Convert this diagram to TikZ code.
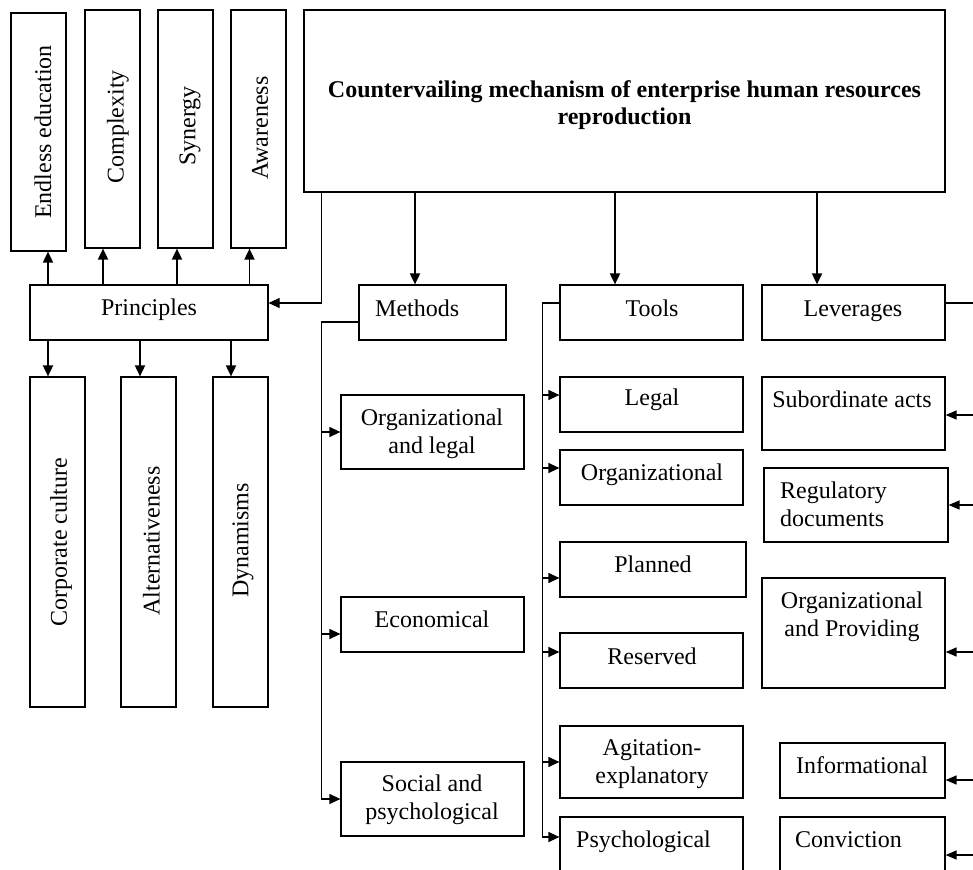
\documentclass[tikz,border=0pt]{standalone}
\usepackage{fontspec}
\setmainfont{Liberation Serif}
\usetikzlibrary{arrows.meta,fit}
\tikzset{
  bx/.style={draw, line width=1.2pt, inner sep=0pt},
  tx/.style={inner sep=0pt, font=\fontsize{24}{28}\selectfont, align=center},
  vt/.style={tx, rotate=90},
  bigarr/.style={line width=1.8pt, -{Triangle[length=11pt,width=10pt]}},
  stub/.style={line width=1.2pt, -{Triangle[length=11pt,width=10pt]}},
  rarr/.style={line width=1.4pt, -{Triangle[length=11pt,width=9pt]}},
  ln/.style={line width=1.2pt},
}
\begin{document}
\begin{tikzpicture}[x=1pt,y=-1pt]
\fill[white] (0,0) rectangle (973,869);
\useasboundingbox (0,0) rectangle (973,869);

% ---------- boxes ----------
\node[bx, fit={(11,13) (66,251)}] (e1) {};
\node[bx, fit={(85,10) (140,248)}] (e2) {};
\node[bx, fit={(158,10) (213,248)}] (e3) {};
\node[bx, fit={(231,10) (286,248)}] (e4) {};
\node[bx, fit={(304,10) (945,192)}] (main) {};
\node[bx, fit={(30,285) (268,340)}] (prin) {};
\node[bx, fit={(30,377) (85,707)}] (c1) {};
\node[bx, fit={(121,377) (176,707)}] (c2) {};
\node[bx, fit={(213,377) (268,707)}] (c3) {};
\node[bx, fit={(359,285) (506,340)}] (meth) {};
\node[bx, fit={(560,285) (743,340)}] (tools) {};
\node[bx, fit={(762,285) (945,340)}] (lev) {};
\node[bx, fit={(341,395) (524,469)}] (m1) {};
\node[bx, fit={(341,597) (524,652)}] (m2) {};
\node[bx, fit={(341,762) (524,836)}] (m3) {};
\node[bx, fit={(560,377) (743,432)}] (t1) {};
\node[bx, fit={(560,450) (743,505)}] (t2) {};
\node[bx, fit={(560,542) (746,597)}] (t3) {};
\node[bx, fit={(560,633) (743,688)}] (t4) {};
\node[bx, fit={(560,726) (743,798)}] (t5) {};
\node[bx, fit={(560,817) (743,878)}] (t6) {};
\node[bx, fit={(762,377) (945,450)}] (l1) {};
\node[bx, fit={(764,468) (948,542)}] (l2) {};
\node[bx, fit={(762,578) (945,688)}] (l3) {};
\node[bx, fit={(780,743) (945,798)}] (l4) {};
\node[bx, fit={(780,817) (945,878)}] (l5) {};

% ---------- texts ----------
\node[vt] (e1t) at (43,132) {Endless education};
\node[vt] (e2t) at (118,127) {Complexity};
\node[vt] (e3t) at (190,126) {Synergy};
\node[vt] (e4t) at (260,128) {Awareness};
\node[tx, font=\fontsize{24}{27}\selectfont\bfseries] (maint) at (624.5,105)
  {Countervailing mechanism of enterprise human resources\\reproduction};
\node[tx, anchor=base] (print) at (149,315) {Principles};
\node[vt] (c1t) at (61,542) {Corporate culture};
\node[vt] (c2t) at (151.5,541) {Alternativeness};
\node[vt] (c3t) at (243,540.5) {Dynamisms};
\node[tx, anchor=base west] (metht) at (375,316) {Methods};
\node[tx, anchor=base] (toolst) at (652,316) {Tools};
\node[tx, anchor=base] (levt) at (853,316) {Leverages};
\node[tx] (m1t) at (432,434) {Organizational\\and legal};
\node[tx, anchor=base] (m2t) at (432,627) {Economical};
\node[tx] (m3t) at (432,800) {Social and\\psychological};
\node[tx, anchor=base] (t1t) at (652,405) {Legal};
\node[tx, anchor=base] (t2t) at (652,480) {Organizational};
\node[tx, anchor=base] (t3t) at (653,572) {Planned};
\node[tx, anchor=base] (t4t) at (652,664) {Reserved};
\node[tx] (t5t) at (652,764) {Agitation-\\explanatory};
\node[tx, anchor=base west] (t6t) at (576,847) {Psychological};
\node[tx, anchor=base] (l1t) at (852,407) {Subordinate acts};
\node[tx, align=left, anchor=west] (l2t) at (780,504) {Regulatory\\documents};
\node[tx] (l3t) at (852,617) {Organizational\\and Providing};
\node[tx, anchor=base] (l4t) at (862,773) {Informational};
\node[tx, anchor=base west] (l5t) at (795,847) {Conviction};

% ---------- connectors ----------
% main box to Principles
\draw[stub] ([xshift=18pt]main.south west) |- ([yshift=9.5pt]prin.east);
% main box to Methods / Tools / Leverages
\coordinate (mA) at ([xshift=-17.5pt]meth.north);
\coordinate (tA) at ([xshift=-36.5pt]tools.north);
\coordinate (lA) at ([xshift=-36.5pt]lev.north);
\draw[bigarr] (mA |- main.south) -- (mA);
\draw[bigarr] (tA |- main.south) -- (tA);
\draw[bigarr] (lA |- main.south) -- (lA);
% Principles up
\coordinate (u1) at ([xshift=9.5pt]e1.south);
\coordinate (u2) at ([xshift=-9.5pt]e2.south);
\coordinate (u3) at ([xshift=-8.5pt]e3.south);
\coordinate (u4) at ([xshift=-9pt]e4.south);
\draw[bigarr] (u1 |- prin.north) -- (u1);
\draw[bigarr] (u2 |- prin.north) -- (u2);
\draw[bigarr] (u3 |- prin.north) -- (u3);
\draw[bigarr] (u4 |- prin.north) -- (u4);
% Principles down
\coordinate (d1) at ([xshift=-9.5pt]c1.north);
\coordinate (d2) at ([xshift=-8.5pt]c2.north);
\coordinate (d3) at ([xshift=-9.5pt]c3.north);
\draw[bigarr] (d1 |- prin.south) -- (d1);
\draw[bigarr] (d2 |- prin.south) -- (d2);
\draw[bigarr] (d3 |- prin.south) -- (d3);
% Methods bracket
\coordinate (mbx) at ([xshift=-37pt,yshift=-9.5pt]meth.west);
\draw[ln] ([yshift=-9.5pt]meth.west) -- (mbx);
\draw[stub] (mbx) |- (m1.west);
\draw[stub] (mbx) |- ([yshift=-9.5pt]m2.west);
\draw[stub] (mbx) |- (m3.west);
% Tools bracket
\coordinate (tbx) at ([xshift=-17pt,yshift=9.5pt]tools.west);
\draw[ln] ([yshift=9.5pt]tools.west) -- (tbx);
\draw[stub] (tbx) |- ([yshift=9.5pt]t1.west);
\draw[stub] (tbx) |- ([yshift=9.5pt]t2.west);
\draw[stub] (tbx) |- ([yshift=-8.5pt]t3.west);
\draw[stub] (tbx) |- ([yshift=8.5pt]t4.west);
\draw[stub] (tbx) |- (t5.west);
\draw[stub] (tbx) |- ([yshift=10.5pt]t6.west);
% Leverages bracket (runs beyond the right edge)
\coordinate (rbx) at (976,303);
\draw[ln] ([yshift=9.5pt]lev.east) -- (rbx);
\draw[rarr] (rbx) |- ([yshift=-1.5pt]l1.east);
\draw[rarr] (rbx) |- (l2.east);
\draw[rarr] (rbx) |- ([yshift=-19pt]l3.east);
\draw[rarr] (rbx) |- ([yshift=-9.5pt]l4.east);
\draw[rarr] (rbx) |- ([yshift=-7.5pt]l5.east);
\end{tikzpicture}
\end{document}
